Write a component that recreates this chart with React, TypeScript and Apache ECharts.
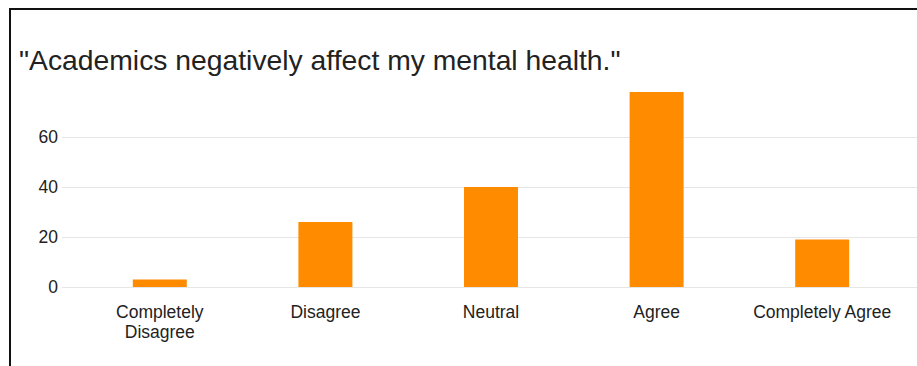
import React, { useEffect, useRef } from "react";
import * as echarts from "echarts";

const titleText = '"Academics negatively affect my mental health."';
const categories = ["Completely\nDisagree", "Disagree", "Neutral", "Agree", "Completely Agree"];
const counts = [3, 26, 40, 78, 19];
const yTicks = [0, 20, 40, 60];

const FONT = "Liberation Sans, Arial, sans-serif";

export default function App() {
  const ref = useRef<HTMLDivElement>(null);
  useEffect(() => {
    if (!ref.current) return;
    const chart = echarts.init(ref.current, null, { renderer: "svg" });
    chart.setOption({
      animation: false,
      backgroundColor: "#ffffff",
      title: {
        text: titleText,
        left: 14,
        top: 41,
        textStyle: { fontFamily: FONT, fontSize: 28.3, fontWeight: "normal", color: "#222222" },
      },
      graphic: [
        { type: "rect", shape: { x: 9, y: 8, width: 908, height: 2 }, style: { fill: "#111111" } },
        { type: "rect", shape: { x: 9, y: 8, width: 2, height: 358 }, style: { fill: "#111111" } },
      ],
      grid: [
        { left: 62, right: 0, top: 137, bottom: 79 },
        { left: 77, right: 12, top: 87, bottom: 79 },
      ],
      xAxis: [
        { type: "value", gridIndex: 0, show: false, min: 0, max: 1 },
        {
          type: "category",
          gridIndex: 1,
          data: categories,
          axisLine: { show: false },
          axisTick: { show: false },
          axisLabel: {
            interval: 0,
            margin: 15,
            fontFamily: FONT,
            fontSize: 17.5,
            lineHeight: 20,
            color: "#222222",
          },
        },
      ],
      yAxis: [
        {
          type: "value",
          gridIndex: 0,
          min: yTicks[0],
          max: yTicks[yTicks.length - 1],
          interval: 20,
          axisLine: { show: false },
          axisTick: { show: false },
          axisLabel: { margin: 4, fontFamily: FONT, fontSize: 17.5, color: "#222222" },
          splitLine: { show: true, lineStyle: { color: "#e6e6e6", width: 1 } },
        },
        { type: "value", gridIndex: 1, min: 0, max: 80, show: false, splitLine: { show: false } },
      ],
      series: [
        {
          type: "bar",
          xAxisIndex: 1,
          yAxisIndex: 1,
          data: counts,
          barWidth: 54,
          itemStyle: { color: "#ff8c00" },
        },
      ],
    });
    return () => chart.dispose();
  }, []);
  return (
    <div
      ref={ref}
      style={{ position: "fixed", left: 0, top: 0, width: 917, height: 366 }}
    />
  );
}
